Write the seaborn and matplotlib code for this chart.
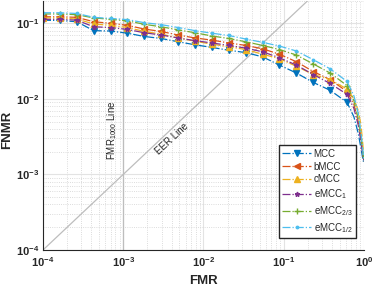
import numpy as np
import seaborn as sns
import matplotlib.pyplot as plt
from matplotlib.ticker import LogLocator, FuncFormatter, NullFormatter

sns.set_style('white')
plt.rcParams['font.family'] = ['Liberation Sans', 'DejaVu Sans']
plt.rcParams['mathtext.fontset'] = 'custom'
plt.rcParams['mathtext.rm'] = 'Liberation Sans'
plt.rcParams['mathtext.it'] = 'Liberation Sans:italic'
plt.rcParams['mathtext.bf'] = 'Liberation Sans:bold'

# FMR sample points (markers on first 19), tail runs down to FMR = 1
fmr = [1.0e-4, 1.62e-4, 2.64e-4, 4.28e-4, 6.95e-4, 1.13e-3, 1.83e-3, 2.98e-3, 4.83e-3,
       7.85e-3, 1.27e-2, 2.07e-2, 3.36e-2, 5.46e-2, 8.86e-2, 0.144, 0.234, 0.379, 0.616,
       0.75, 0.85, 0.92, 0.97, 1.0]

mcc = [0.110, 0.109, 0.105, 0.080, 0.079, 0.074, 0.067, 0.063, 0.057, 0.052, 0.048, 0.044,
       0.041, 0.036, 0.028, 0.022, 0.0165, 0.013, 0.0090,
       0.0058, 0.0035, 0.0022, 0.0016, 0.0014]
bmcc = [0.122, 0.122, 0.120, 0.105, 0.100, 0.094, 0.084, 0.078, 0.070, 0.064, 0.060, 0.055,
        0.051, 0.046, 0.039, 0.031, 0.023, 0.018, 0.0125,
        0.0085, 0.005, 0.003, 0.0019, 0.0015]
cmcc = [0.118, 0.118, 0.114, 0.098, 0.094, 0.088, 0.078, 0.072, 0.064, 0.058, 0.053, 0.049,
        0.045, 0.039, 0.034, 0.027, 0.021, 0.018, 0.0135,
        0.010, 0.0070, 0.0045, 0.0025, 0.0016]
emcc1 = [0.113, 0.113, 0.110, 0.090, 0.088, 0.083, 0.075, 0.070, 0.064, 0.059, 0.055, 0.051,
         0.047, 0.042, 0.035, 0.028, 0.021, 0.016, 0.0115,
         0.0075, 0.0045, 0.0027, 0.0018, 0.0015]
emcc23 = [0.133, 0.133, 0.130, 0.118, 0.113, 0.108, 0.097, 0.090, 0.082, 0.075, 0.068, 0.063,
          0.057, 0.051, 0.045, 0.038, 0.029, 0.022, 0.0150,
          0.0095, 0.0055, 0.0032, 0.002, 0.0015]
emcc12 = [0.138, 0.138, 0.135, 0.120, 0.116, 0.112, 0.102, 0.096, 0.088, 0.080, 0.074, 0.069,
          0.062, 0.056, 0.050, 0.043, 0.033, 0.025, 0.017,
          0.011, 0.0065, 0.0036, 0.0021, 0.0015]

labels = ['MCC', 'bMCC', 'cMCC', 'eMCC$_1$', 'eMCC$_{2/3}$', 'eMCC$_{1/2}$']
series = [mcc, bmcc, cmcc, emcc1, emcc23, emcc12]
colors = ['#0072BD', '#D95319', '#EDB120', '#7E2F8E', '#77AC30', '#4DBEEE']
markers = ['v', '<', '^', '*', '+', '.']
msizes = [5, 5, 5, 3.5, 5, 3.5]

fig = plt.figure(figsize=(3.74, 2.89), dpi=100)
ax = fig.add_axes([0.115, 0.135, 0.858, 0.863])

# reference lines
ax.plot([1e-4, 1], [1e-4, 1], color='#bdbdbd', lw=0.9, zorder=1)
ax.axvline(1e-3, color='#bdbdbd', lw=0.9, zorder=1)

for vals, lab, c, m, ms in zip(series, labels, colors, markers, msizes):
    sns.lineplot(x=fmr, y=vals, ax=ax, color=c, marker=m, markersize=ms, linestyle='-.',
                 lw=0.9, markevery=list(range(19)), markeredgecolor=c, markerfacecolor=c,
                 markeredgewidth=1.0, label=lab, estimator=None, sort=False)

ax.set_xscale('log')
ax.set_yscale('log')
ax.set_xlim(1e-4, 1)
ax.set_ylim(1e-4, 0.2)

ax.xaxis.set_major_locator(LogLocator(base=10, numticks=10))
ax.yaxis.set_major_locator(LogLocator(base=10, numticks=10))
ax.xaxis.set_minor_locator(LogLocator(base=10, subs=np.arange(2, 10), numticks=50))
ax.yaxis.set_minor_locator(LogLocator(base=10, subs=np.arange(2, 10), numticks=50))
fmt = FuncFormatter(lambda v, p: r'$\mathbf{10^{%d}}$' % int(round(np.log10(v))))
ax.xaxis.set_major_formatter(fmt)
ax.yaxis.set_major_formatter(fmt)
ax.xaxis.set_minor_formatter(NullFormatter())
ax.yaxis.set_minor_formatter(NullFormatter())

ax.grid(which='major', color='#e3e3e3', lw=0.8, ls='-')
ax.grid(which='minor', color='#d0d0d0', lw=0.6, ls=':')
ax.set_axisbelow(True)
ax.tick_params(which='both', direction='in', labelsize=8, color='#262626')
ax.tick_params(which='major', length=3)
ax.tick_params(axis='x', which='major', pad=4)
ax.tick_params(axis='y', which='major', pad=3)
ax.tick_params(which='minor', length=1.5)
for s in ['top', 'right']:
    ax.spines[s].set_visible(False)
for s in ['left', 'bottom']:
    ax.spines[s].set_color('#262626')
    ax.spines[s].set_linewidth(0.8)

ax.set_xlabel('FMR', fontsize=9.5, fontweight='bold')
ax.set_ylabel('FNMR', fontsize=9.5, fontweight='bold')
ax.xaxis.set_label_coords(0.5, -0.1)
ax.yaxis.set_label_coords(-0.092, 0.48)

ax.text(7.2e-4, 3.8e-3, 'FMR$_{1000}$ Line', rotation=90, fontsize=7,
        ha='center', va='center', color='#262626')
ax.text(4.0e-3, 3.0e-3, 'EER Line', rotation=43, fontsize=7,
        ha='center', va='center', color='#262626')

ax.legend(loc='lower right', bbox_to_anchor=(0.975, 0.048), borderaxespad=0,
          fontsize=7, handlelength=2.9, labelspacing=0.3, handletextpad=0.3,
          borderpad=0.35, frameon=True,
          fancybox=False, edgecolor='#262626', framealpha=1)

fig.savefig('out.png', dpi=100)
